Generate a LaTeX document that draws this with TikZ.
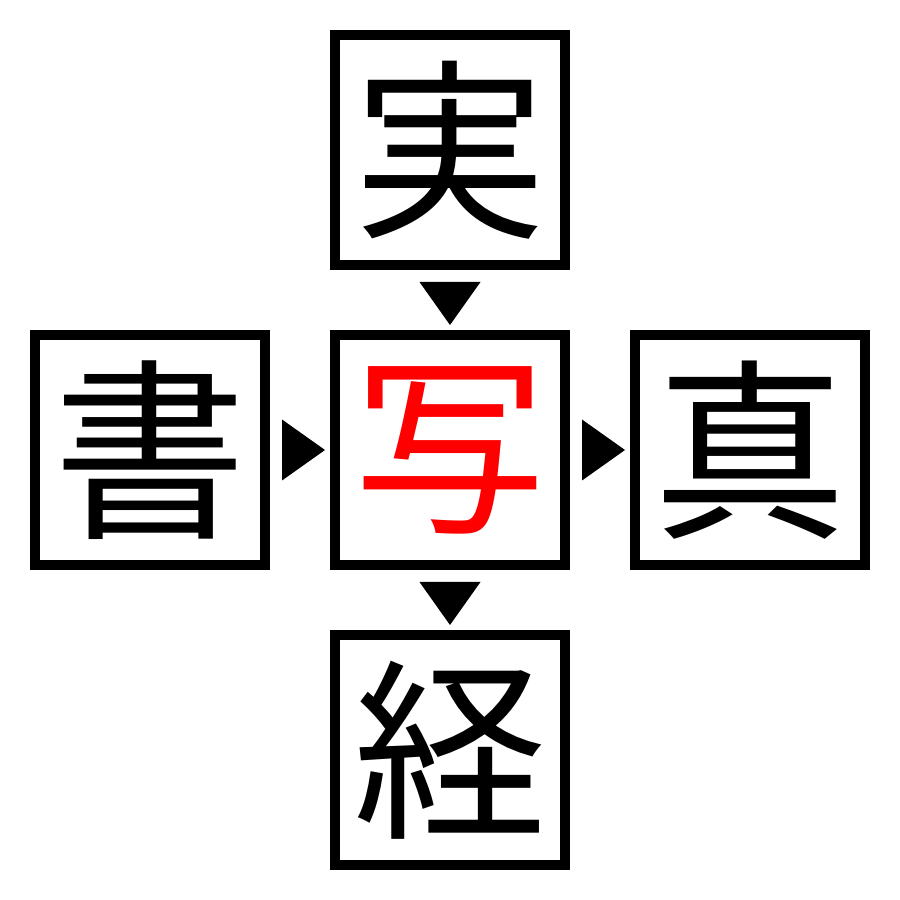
\documentclass[tikz,border=0pt]{standalone}
\usepackage{fontspec}
\newfontfamily\cjk{Noto Sans CJK JP}
\usetikzlibrary{positioning,calc}

\begin{document}
\begin{tikzpicture}[
    node distance=0.6cm,
    kanji/.style={draw, line width=0.1cm, minimum size=2.3cm, inner sep=0pt,
        font=\cjk\fontsize{55}{55}\selectfont},
    marker/.style={fill=black}
]

    % Fix the page
    \useasboundingbox (0,0) rectangle (9,9);

    % Boxes
    \node[kanji, text=red] (sha) at (4.5, 4.5) {写};
    \node[kanji, above=of sha] (jitsu) {実};
    \node[kanji, left=of sha] (sho) {書};
    \node[kanji, right=of sha] (shin) {真};
    \node[kanji, below=of sha] (kyo) {経};

    % Triangles
    \fill[marker] ($(sha.west)+(-0.05,0)$) -- ++(-0.43,0.305) -- ++(0,-0.61) -- cycle;
    \fill[marker] ($(shin.west)+(-0.05,0)$) -- ++(-0.43,0.305) -- ++(0,-0.61) -- cycle;
    \fill[marker] ($(sha.north)+(0,0.05)$) -- ++(-0.305,0.43) -- ++(0.61,0) -- cycle;
    \fill[marker] ($(kyo.north)+(0,0.05)$) -- ++(-0.305,0.43) -- ++(0.61,0) -- cycle;

\end{tikzpicture}
\end{document}
